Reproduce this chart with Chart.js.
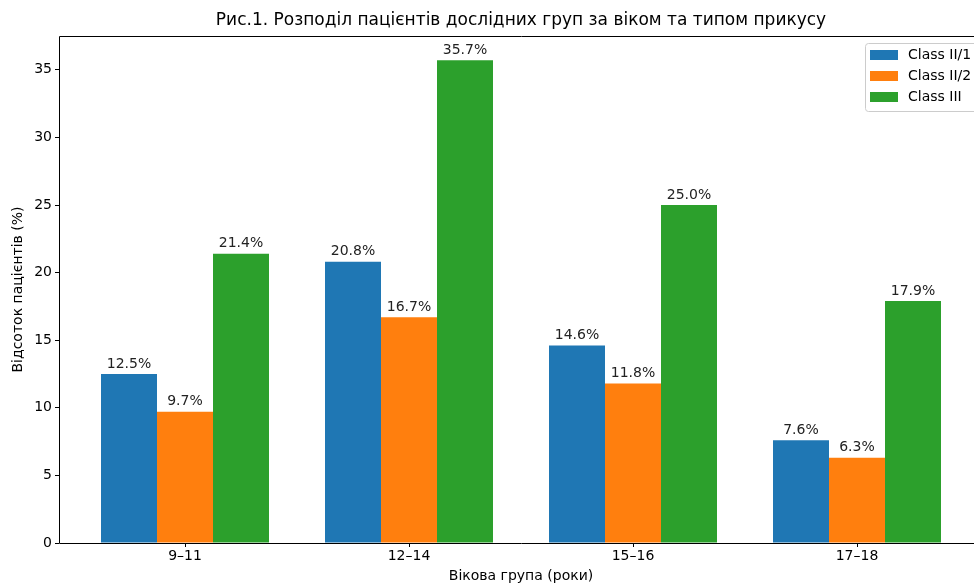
<!DOCTYPE html>
<html>
<head>
<meta charset="utf-8">
<script src="https://cdn.jsdelivr.net/npm/chart.js@4"></script>
<style>
  html, body { margin: 0; padding: 0; background: #fff; overflow: hidden; }
  #wrap { width: 974px; height: 585px; overflow: hidden; }
  #wrap canvas { display: block; }
</style>
</head>
<body>
<div id="wrap"><canvas id="chart" width="990" height="585"></canvas></div>
<script>
// data
var ageGroups = ["9–11", "12–14", "15–16", "17–18"];
var classII1 = [12.5, 20.8, 14.6, 7.6];
var classII2 = [9.7, 16.7, 11.8, 6.3];
var classIII = [21.4, 35.7, 25.0, 17.9];
var seriesNames = ["Class II/1", "Class II/2", "Class III"];
var yTicks = [0, 5, 10, 15, 20, 25, 30, 35];

var FONT = "'DejaVu Sans', sans-serif";
var colors = ["#1f77b4", "#ff7f0e", "#2ca02c"];

function toPoints(arr) {
  return arr.map(function (v, i) { return { x: i, y: v }; });
}

// frame + title + bar labels + legend
var extras = {
  id: "extras",
  afterDraw: function (chart) {
    var ctx = chart.ctx;
    var a = chart.chartArea;
    ctx.save();

    // axes frame
    ctx.strokeStyle = "#000";
    ctx.lineWidth = 1;
    ctx.beginPath();
    ctx.moveTo(a.left + 0.5, a.bottom + 0.5);
    ctx.lineTo(a.left + 0.5, a.top + 0.5);
    ctx.lineTo(a.right + 0.5, a.top + 0.5);
    ctx.lineTo(a.right + 0.5, a.bottom + 0.5);
    ctx.closePath();
    ctx.stroke();

    // title
    ctx.fillStyle = "#000";
    ctx.font = "17px " + FONT;
    ctx.textAlign = "center";
    ctx.textBaseline = "middle";
    ctx.fillText("Рис.1. Розподіл пацієнтів дослідних груп за віком та типом прикусу", (a.left + a.right) / 2, 21);

    // value labels
    ctx.font = "14px " + FONT;
    ctx.textBaseline = "bottom";
    ctx.fillStyle = "#222";
    chart.data.datasets.forEach(function (ds, di) {
      var meta = chart.getDatasetMeta(di);
      meta.data.forEach(function (bar, i) {
        ctx.fillText(ds.data[i].y.toFixed(1) + "%", bar.x, bar.y - 3);
      });
    });

    // legend
    var lx = 865, ly = 43, lw = 114, lh = 68;
    ctx.fillStyle = "rgba(255,255,255,0.8)";
    ctx.strokeStyle = "#cccccc";
    ctx.beginPath();
    ctx.roundRect(lx + 0.5, ly + 0.5, lw, lh, 3);
    ctx.fill();
    ctx.stroke();
    ctx.textAlign = "left";
    ctx.textBaseline = "middle";
    ctx.font = "14px " + FONT;
    chart.data.datasets.forEach(function (ds, di) {
      var cy = 55 + di * 21;
      ctx.fillStyle = ds.backgroundColor;
      ctx.fillRect(870, cy - 5, 28, 10);
      ctx.fillStyle = "#000";
      ctx.fillText(ds.label, 908, cy);
    });

    ctx.restore();
  }
};

new Chart(document.getElementById("chart"), {
  type: "bar",
  data: {
    datasets: [
      { label: seriesNames[0], data: toPoints(classII1), backgroundColor: colors[0] },
      { label: seriesNames[1], data: toPoints(classII2), backgroundColor: colors[1] },
      { label: seriesNames[2], data: toPoints(classIII), backgroundColor: colors[2] }
    ]
  },
  options: {
    responsive: false,
    animation: false,
    categoryPercentage: 0.75,
    barPercentage: 1.0,
    layout: { padding: { top: 36, right: 7, left: 0, bottom: 0 } },
    plugins: {
      legend: { display: false },
      tooltip: { enabled: false }
    },
    scales: {
      x: {
        type: "linear",
        offset: false,
        min: -0.5625,
        max: 3.5625,
        afterBuildTicks: function (scale) {
          scale.ticks = ageGroups.map(function (c, i) { return { value: i }; });
        },
        afterFit: function (scale) { scale.height = 42; },
        ticks: {
          color: "#000",
          font: { family: FONT, size: 14 },
          padding: 1,
          maxRotation: 0,
          callback: function (v) { return ageGroups[v]; }
        },
        grid: { display: true, offset: false, drawOnChartArea: false, drawTicks: true, tickLength: 4, color: "#000" },
        border: { display: false },
        title: {
          display: true,
          text: "Вікова група (роки)",
          color: "#000",
          font: { family: FONT, size: 14 },
          padding: { top: 2, bottom: 0 }
        }
      },
      y: {
        min: 0,
        max: 37.5,
        afterBuildTicks: function (scale) {
          scale.ticks = yTicks.map(function (v) { return { value: v }; });
        },
        afterFit: function (scale) { scale.width = 59; },
        ticks: {
          color: "#000",
          font: { family: FONT, size: 14 },
          padding: 3
        },
        grid: { display: true, drawOnChartArea: false, drawTicks: true, tickLength: 4, color: "#000" },
        border: { display: false },
        title: {
          display: true,
          text: "Відсоток пацієнтів (%)",
          color: "#000",
          font: { family: FONT, size: 14 },
          padding: { top: 10, bottom: 0 }
        }
      }
    }
  },
  plugins: [extras]
});
</script>
</body>
</html>
